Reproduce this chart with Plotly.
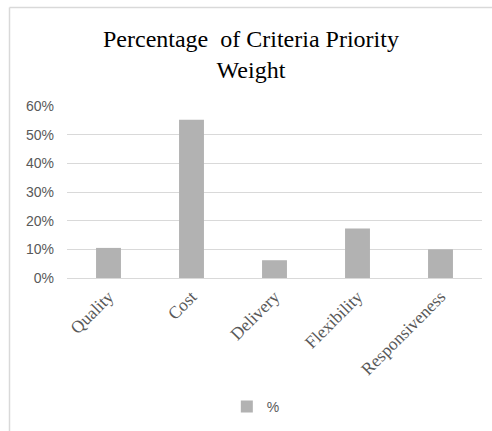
import plotly.graph_objects as go

categories = ["Quality", "Cost", "Delivery", "Flexibility", "Responsiveness"]
values = [0.105, 0.552, 0.062, 0.173, 0.100]
y_ticks = [0, 0.1, 0.2, 0.3, 0.4, 0.5, 0.6]
y_ticklabels = ["0%", "10%", "20%", "30%", "40%", "50%", "60%"]
series_name = "%"
title_text = "Percentage  of Criteria Priority<br>Weight"

W, H = 492, 431
L, R, T, B = 67, 10, 106, 152
pw = W - L - R
ph = H - T - B

def px_x(px):
    return (px - L) / pw

def px_y(py):
    return (H - B - py) / ph

fig = go.Figure()
fig.add_trace(go.Bar(
    x=categories, y=values, name=series_name,
    marker=dict(color="#b2b2b2", line=dict(width=0)),
    showlegend=True,
))

fig.update_layout(
    width=W, height=H,
    margin=dict(l=L, r=R, t=T, b=B),
    paper_bgcolor="white", plot_bgcolor="white",
    bargap=0.7,
    showlegend=True,
    legend=dict(orientation="h", x=0.455, xref="paper", xanchor="center",
                y=px_y(407), yanchor="middle",
                font=dict(family="Liberation Sans", size=14, color="#595959"),
                itemwidth=30),
    xaxis=dict(showgrid=False, showline=False, zeroline=False, ticks="",
               tickangle=-45, ticklabelstandoff=4,
               tickfont=dict(family="Liberation Serif", size=17.5, color="#595959")),
    yaxis=dict(range=[0, 0.6], tickvals=y_ticks, ticktext=y_ticklabels,
               showgrid=True, gridcolor="#d9d9d9", gridwidth=1,
               zeroline=True, zerolinecolor="#d9d9d9", zerolinewidth=1,
               showline=False, ticks="",
               ticklabelstandoff=12,
               tickfont=dict(family="Liberation Sans", size=14, color="#595959")),
    annotations=[dict(
        text=title_text, xref="paper", yref="paper",
        x=px_x(251), y=px_y(24), xanchor="center", yanchor="top",
        showarrow=False, align="center",
        font=dict(family="Liberation Serif", size=24, color="#000000"),
    )],
    shapes=[
        dict(type="line", xref="paper", yref="paper",
             x0=px_x(9.5), x1=px_x(500), y0=px_y(7), y1=px_y(7),
             line=dict(color="#d9d9d9", width=1.5)),
        dict(type="line", xref="paper", yref="paper",
             x0=px_x(9.5), x1=px_x(9.5), y0=px_y(7), y1=px_y(440),
             line=dict(color="#d9d9d9", width=1.5)),
    ],
)

fig.write_html("out.html")
